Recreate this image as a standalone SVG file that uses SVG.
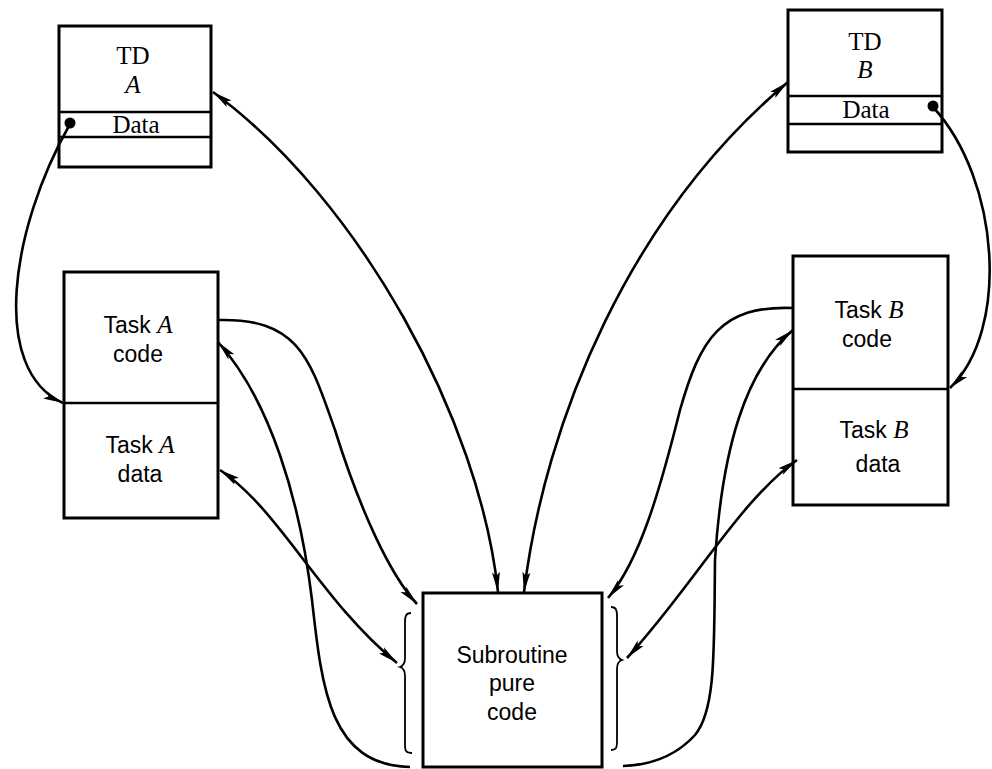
<svg xmlns="http://www.w3.org/2000/svg" width="992" height="769" viewBox="0 0 992 769">
<defs>
<marker id="arr" viewBox="0 0 20 10" refX="20" refY="5" markerWidth="20" markerHeight="10" markerUnits="userSpaceOnUse" orient="auto-start-reverse">
<path d="M0,1 L20,5 L0,9 L4,5 z" fill="#000"/>
</marker>
</defs>
<style>
.box{fill:#fff;stroke:#000;stroke-width:3}
.div{stroke:#000;stroke-width:2.4;fill:none}
.ln{fill:none;stroke:#000;stroke-width:2.6}
.br{fill:none;stroke:#000;stroke-width:1.8}
.sf{font-family:"Liberation Serif","Times New Roman",serif;font-size:25px;fill:#000;text-anchor:middle}
.ss{font-family:"Liberation Sans",Arial,sans-serif;font-size:23px;fill:#000;text-anchor:middle}
.it{font-family:"Liberation Serif","Times New Roman",serif;font-style:italic;font-size:25px}
</style>
<rect width="992" height="769" fill="#fff"/>

<g id="tdA">
<rect class="box" x="59" y="26" width="152" height="141"/>
<line class="div" x1="59" y1="112" x2="211" y2="112"/>
<line class="div" x1="59" y1="137" x2="211" y2="137"/>
<text class="sf" x="133" y="64">TD</text>
<text class="it" x="133" y="93" text-anchor="middle">A</text>
<text class="sf" x="136" y="133">Data</text>
</g>

<g id="tdB">
<rect class="box" x="788" y="10" width="154" height="142"/>
<line class="div" x1="788" y1="96" x2="942" y2="96"/>
<line class="div" x1="788" y1="124" x2="942" y2="124"/>
<text class="sf" x="865" y="50">TD</text>
<text class="it" x="865" y="78" text-anchor="middle">B</text>
<text class="sf" x="866" y="118">Data</text>
</g>

<g id="taskA">
<rect class="box" x="64" y="272" width="154" height="246"/>
<line class="div" x1="64" y1="403" x2="218" y2="403"/>
<text class="ss" x="138" y="333">Task <tspan class="it">A</tspan></text>
<text class="ss" x="138" y="362">code</text>
<text class="ss" x="140" y="453">Task <tspan class="it">A</tspan></text>
<text class="ss" x="140" y="482">data</text>
</g>

<g id="taskB">
<rect class="box" x="793" y="256" width="155" height="249"/>
<line class="div" x1="793" y1="389" x2="948" y2="389"/>
<text class="ss" x="869" y="318">Task <tspan class="it">B</tspan></text>
<text class="ss" x="867" y="347">code</text>
<text class="ss" x="874" y="438">Task <tspan class="it">B</tspan></text>
<text class="ss" x="878" y="472">data</text>
</g>

<g id="subroutine">
<rect class="box" x="423" y="593" width="179" height="174"/>
<text class="ss" x="512" y="663">Subroutine</text>
<text class="ss" x="512" y="691">pure</text>
<text class="ss" x="512" y="720">code</text>
<path class="br" d="M411,613 C406,613 405,616 405,622 L405,658 C405,664 403,666 400,667 C403,668 405,670 405,676 L405,745 C405,751 406,753 412,753"/>
<path class="br" d="M611,607 C616,607 617,610 617,616 L617,651 C617,657 619,659 622,660 C619,661 617,663 617,669 L617,742 C617,748 616,750 611,750"/>
</g>

<g id="connectors">
<path class="ln" d="M498,592 C480,420 360,200 213,92" marker-start="url(#arr)" marker-end="url(#arr)"/>
<path class="ln" d="M524,592 C545,420 630,215 788,82" marker-start="url(#arr)" marker-end="url(#arr)"/>
<path class="ln" d="M218,320 C300,318 310,360 335,430 C360,510 390,575 417,604" marker-end="url(#arr)"/>
<path class="ln" d="M218,342 C270,400 300,500 312,600 C322,690 330,765 410,767" marker-start="url(#arr)"/>
<path class="ln" d="M220,470 C280,510 320,600 397,663" marker-start="url(#arr)" marker-end="url(#arr)"/>
<path class="ln" d="M70,124 C10,230 -10,370 63,403" marker-end="url(#arr)"/>
<circle cx="70" cy="123" r="5.5" fill="#000"/>
<path class="ln" d="M933,107 C1000,180 1010,330 950,388" marker-end="url(#arr)"/>
<circle cx="933" cy="106" r="5.5" fill="#000"/>
<path class="ln" d="M793,308 C720,305 700,340 680,410 C660,490 640,560 608,598" marker-end="url(#arr)"/>
<path class="ln" d="M793,330 C745,370 722,450 715,560 C714,650 716,710 695,735 C675,757 650,765 623,766" marker-start="url(#arr)"/>
<path class="ln" d="M797,460 C740,500 690,590 627,658" marker-start="url(#arr)" marker-end="url(#arr)"/>
</g>
</svg>
